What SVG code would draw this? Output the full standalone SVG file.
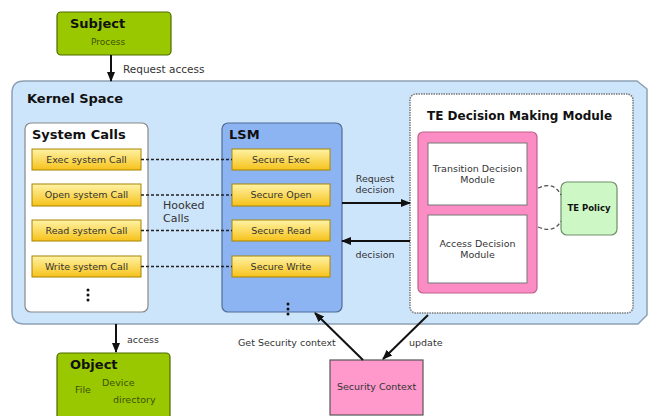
<svg xmlns="http://www.w3.org/2000/svg" width="655" height="416" viewBox="0 0 655 416">
<style>
text{font-family:"DejaVu Sans",Verdana,sans-serif;fill:#333}
.h{font-weight:bold;fill:#111;font-size:12px}
.s{font-size:9.5px}
.c{text-anchor:middle}
.y{fill:url(#yg);stroke:#a98300;stroke-width:1}
.ln{stroke:#111;stroke-width:2;fill:none}
.ds{stroke:#222;stroke-width:1.6;stroke-dasharray:3,2;fill:none}
</style>
<defs>
<linearGradient id="yg" x1="0" y1="0" x2="0" y2="1">
<stop offset="0" stop-color="#fff3a6"/><stop offset="1" stop-color="#f6c21a"/>
</linearGradient>
<marker id="ah" viewBox="0 0 10 10" refX="9" refY="5" markerWidth="5" markerHeight="5" orient="auto">
<path d="M0,1 L10,5 L0,9 z" fill="#111"/>
</marker>
</defs>
<g id="kernel">
<path d="M24,81 L637,81 L647,89 L647,315 L638,324 L24,324 Q12,324 12,312 L12,93 Q12,81 24,81 Z" fill="#cde5fb" stroke="#8ea1b4" stroke-width="1.5"/>
<text class="h" x="27" y="103" style="font-size:13px">Kernel Space</text>
</g>
<g id="subject">
<rect x="57" y="12" width="114" height="43" rx="4" fill="#99c800" stroke="#4d6a00" stroke-width="1.2"/>
<text class="h" x="70" y="28" style="font-size:13px">Subject</text>
<text class="s" x="91" y="45" style="fill:#3d5200;font-size:9px">Process</text>
</g>
<g id="syscalls">
<rect x="25" y="123" width="123" height="189" rx="6" fill="#fff" stroke="#888" stroke-width="1.2"/>
<text class="h" x="32" y="139" style="font-size:13px">System Calls</text>
<rect class="y" x="32" y="149" width="109" height="21"/>
<text class="s c" x="86.5" y="163">Exec system Call</text>
<rect class="y" x="32" y="184" width="109" height="22"/>
<text class="s c" x="86.5" y="198">Open system Call</text>
<rect class="y" x="32" y="220" width="109" height="21"/>
<text class="s c" x="86.5" y="234">Read system Call</text>
<rect class="y" x="32" y="256" width="109" height="21"/>
<text class="s c" x="86.5" y="270">Write system Call</text>
<g fill="#111"><circle cx="88" cy="290" r="1.5"/><circle cx="88" cy="295" r="1.5"/><circle cx="88" cy="300" r="1.5"/></g>
</g>
<g id="lsm">
<rect x="222" y="123" width="120" height="189" rx="6" fill="#8db4f2" stroke="#4f6c96" stroke-width="1.2"/>
<text class="h" x="229" y="139" style="font-size:13px">LSM</text>
<rect class="y" x="232" y="149" width="98" height="21"/>
<text class="s c" x="281" y="163">Secure Exec</text>
<rect class="y" x="232" y="184" width="98" height="22"/>
<text class="s c" x="281" y="198">Secure Open</text>
<rect class="y" x="232" y="220" width="98" height="21"/>
<text class="s c" x="281" y="234">Secure Read</text>
<rect class="y" x="232" y="256" width="98" height="21"/>
<text class="s c" x="281" y="270">Secure Write</text>
<g fill="#111"><circle cx="288" cy="304" r="1.5"/><circle cx="288" cy="309" r="1.5"/><circle cx="288" cy="314" r="1.5"/></g>
</g>
<g id="te-module">
<rect x="410" y="94" width="223" height="219" rx="6" fill="#fff" stroke="#777" stroke-width="1.5" stroke-dasharray="1.5,1"/>
<text class="h" x="427" y="120">TE Decision Making Module</text>
<rect x="418" y="132" width="119" height="161" rx="5" fill="#fb8cc4" stroke="#c0608e" stroke-width="1.2"/>
<rect x="428" y="143" width="99" height="62" fill="#fff" stroke="#777" stroke-width="1"/>
<text class="s c" x="477.5" y="172">Transition Decision</text>
<text class="s c" x="477.5" y="183">Module</text>
<rect x="428" y="215" width="99" height="68" fill="#fff" stroke="#777" stroke-width="1"/>
<text class="s c" x="477.5" y="247">Access Decision</text>
<text class="s c" x="477.5" y="258">Module</text>
</g>
<g id="te-policy">
<rect x="561" y="182" width="56" height="53" rx="6" fill="#cdf7c4" stroke="#6f8f6a" stroke-width="1.2"/>
<text class="h c" x="589" y="211" style="font-size:8.5px">TE Policy</text>
</g>
<g id="object">
<rect x="57" y="353" width="113" height="70" rx="4" fill="#99c800" stroke="#4d6a00" stroke-width="1.2"/>
<text class="h" x="70" y="369" style="font-size:13px">Object</text>
<text class="s" x="75" y="393" style="fill:#3d5200">File</text>
<text class="s" x="102" y="386" style="fill:#3d5200">Device</text>
<text class="s" x="113" y="403" style="fill:#3d5200">directory</text>
</g>
<g id="security-context">
<rect x="330" y="360" width="93" height="55" fill="#ff99cc" stroke="#555" stroke-width="1.2"/>
<text class="s c" x="376.5" y="390">Security Context</text>
</g>
<g id="connectors">
<line class="ln" x1="111" y1="55" x2="111" y2="81" marker-end="url(#ah)"/>
<text class="s" x="123" y="73" style="font-size:10.5px">Request access</text>
<line class="ds" x1="141" y1="159.5" x2="232" y2="159.5"/>
<line class="ds" x1="141" y1="195" x2="232" y2="195"/>
<line class="ds" x1="141" y1="230.5" x2="232" y2="230.5"/>
<line class="ds" x1="141" y1="266.5" x2="232" y2="266.5"/>
<text class="s" x="163" y="209" style="font-size:11px">Hooked</text>
<text class="s" x="163" y="222" style="font-size:11px">Calls</text>
<line class="ln" x1="342" y1="203" x2="410" y2="203" marker-end="url(#ah)"/>
<text class="s c" x="375" y="182">Request</text>
<text class="s c" x="375" y="193">decision</text>
<line class="ln" x1="410" y1="241" x2="342" y2="241" marker-end="url(#ah)"/>
<text class="s c" x="375" y="258">decision</text>
<path d="M538,188 Q554,181 561,195" fill="none" stroke="#555" stroke-width="1.3" stroke-dasharray="4,2.5"/>
<path d="M538,227 Q554,234 561,221" fill="none" stroke="#555" stroke-width="1.3" stroke-dasharray="4,2.5"/>
<line class="ln" x1="116" y1="324" x2="116" y2="352" marker-end="url(#ah)"/>
<text class="s" x="127" y="343">access</text>
<line class="ln" x1="363" y1="360" x2="315" y2="313" marker-end="url(#ah)"/>
<text class="s" x="238" y="346">Get Security context</text>
<line class="ln" x1="428" y1="315" x2="383" y2="359" marker-end="url(#ah)"/>
<text class="s" x="409" y="346">update</text>
</g>
</svg>
